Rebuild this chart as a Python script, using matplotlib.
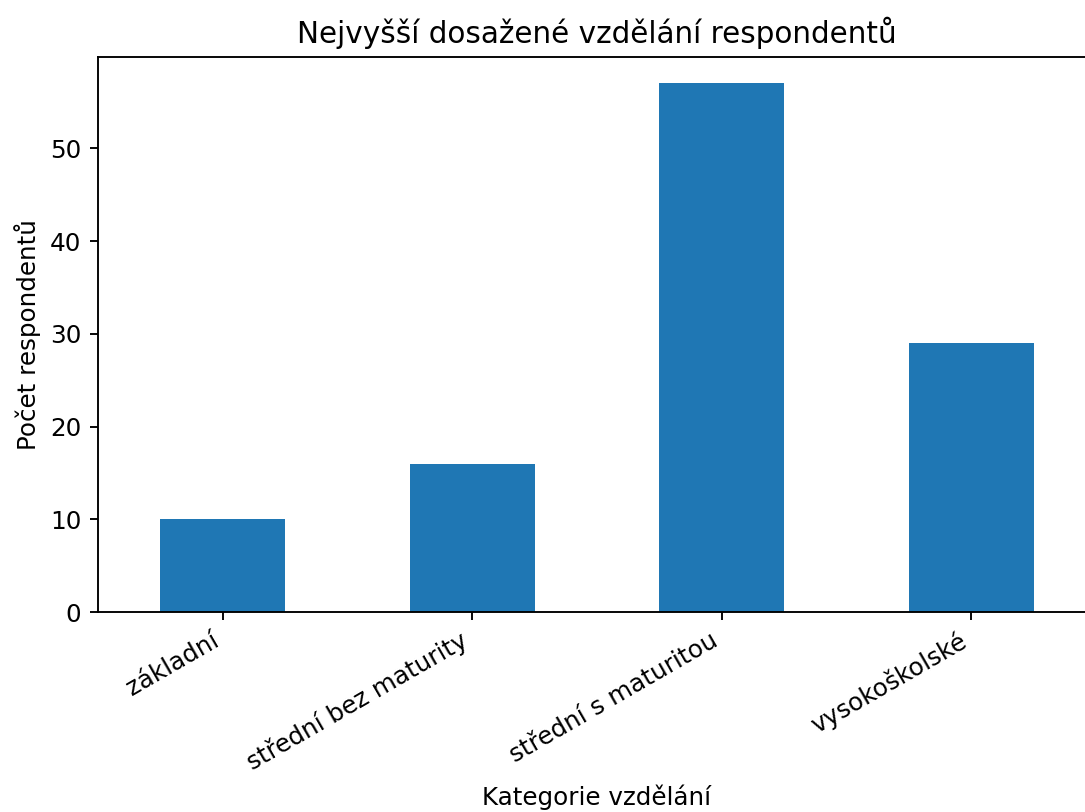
import matplotlib
matplotlib.use("Agg")
import matplotlib.pyplot as plt

categories = ["základní", "střední bez maturity", "střední s maturitou", "vysokoškolské"]
counts = [10, 16, 57, 29]

plt.rcParams["font.size"] = 10.45
plt.rcParams["axes.titlesize"] = 12.5

DPI = 170
W, H = 1085, 812
fig = plt.figure(figsize=(W / DPI, H / DPI), dpi=DPI)
ax = fig.add_axes([98 / W, 1 - 612 / H, (1096 - 98) / W, (612 - 57) / H])

x = list(range(len(categories)))
ax.bar(x, counts, width=0.5, color="#1f77b4")
ax.set_xlim(-0.5, len(categories) - 0.5)
ax.set_xticks(x)
ax.set_xticklabels(categories, rotation=30, ha="right")
ax.set_title("Nejvyšší dosažené vzdělání respondentů")
ax.set_xlabel("Kategorie vzdělání")
ax.set_ylabel("Počet respondentů")

fig.savefig("out.png", dpi=DPI)
